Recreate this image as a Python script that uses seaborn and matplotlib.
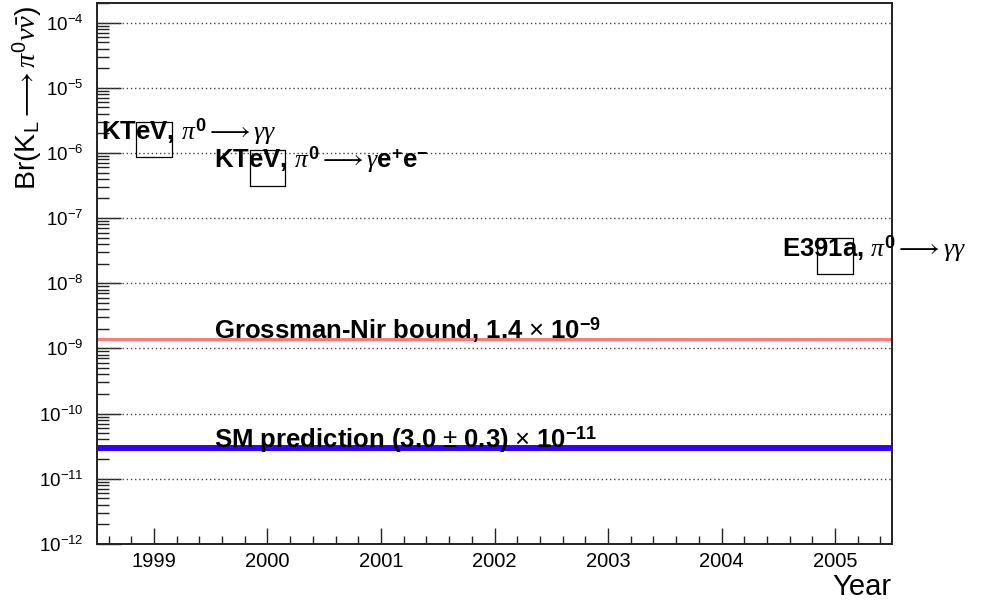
import numpy as np
import matplotlib
matplotlib.use("Agg")
import matplotlib.pyplot as plt
import matplotlib.ticker as mticker
import seaborn as sns

# ----------------------------
# Data: KL -> pi0 nu nubar upper limits
# ----------------------------
years = [1999, 2000, 2005]
limits = [1.6e-6, 5.9e-7, 2.6e-8]
labels = [
    r"KTeV, $\pi^{\mathbf{0}}\longrightarrow\gamma\gamma$",
    r"KTeV, $\pi^{\mathbf{0}}\longrightarrow\gamma$e$^{\mathbf{+}}$e$^{\mathbf{-}}$",
    r"E391a, $\pi^{\mathbf{0}}\longrightarrow\gamma\gamma$",
]
gn_bound = 1.4e-9
sm_pred = 3.0e-11
gn_label = r"Grossman-Nir bound, 1.4$\,\times\,$10$^{\mathbf{-9}}$"
sm_label = r"SM prediction (3.0$\,\pm\,$0.3)$\,\times\,$10$^{\mathbf{-11}}$"
x_range = (1998.5, 2005.5)
y_range = (1e-12, 2e-4)

sns.set_theme(style="white")
plt.rcParams["font.family"] = ["Liberation Sans", "DejaVu Sans"]
plt.rcParams["mathtext.fontset"] = "custom"
plt.rcParams["mathtext.rm"] = "Liberation Sans"
plt.rcParams["mathtext.bf"] = "Liberation Sans:bold"
plt.rcParams["mathtext.it"] = "Liberation Serif:italic"
plt.rcParams["text.color"] = "black"
plt.rcParams["axes.labelcolor"] = "black"
plt.rcParams["xtick.color"] = "black"
plt.rcParams["ytick.color"] = "black"

fig = plt.figure(figsize=(9.92, 6.09), dpi=100)
ax = fig.add_axes([0.098, 0.107, 0.801, 0.888])

ax.set_yscale("log")
ax.set_xlim(*x_range)
ax.set_ylim(*y_range)

# horizontal grid at each decade
for e in range(-11, -3):
    ax.axhline(10.0 ** e, color="#444444", linestyle=(0, (1, 2)), linewidth=1.0, zorder=1)

ax.axhline(gn_bound, color="#ff7b7b", linewidth=2.2, zorder=2)
ax.axhline(sm_pred, color="#3300ff", linewidth=4.3, zorder=2)

sns.scatterplot(x=years, y=limits, marker="s", s=660, facecolors="none",
                edgecolor="black", linewidth=0.9, ax=ax, zorder=5)

for yr, lim, lab in zip(years, limits, labels):
    ax.text(yr - 0.47, lim, lab, fontsize=18.5, fontweight="bold",
            ha="left", va="baseline", zorder=3)

ax.text(1999.53, gn_bound, gn_label, fontsize=18.5, fontweight="bold",
        ha="left", va="baseline", zorder=3)
ax.text(1999.53, sm_pred, sm_label, fontsize=18.5, fontweight="bold",
        ha="left", va="baseline", zorder=3)

# ticks
ax.xaxis.set_major_locator(mticker.MultipleLocator(1))
ax.xaxis.set_minor_locator(mticker.MultipleLocator(0.2))
ax.xaxis.set_major_formatter(mticker.FuncFormatter(lambda v, p: f"{int(round(v))}"))
ax.xaxis.set_minor_formatter(mticker.NullFormatter())
ax.yaxis.set_major_locator(mticker.LogLocator(base=10, numticks=30))
ax.yaxis.set_minor_locator(mticker.LogLocator(base=10, subs=np.arange(2, 10), numticks=200))
ax.yaxis.set_minor_formatter(mticker.NullFormatter())
ax.yaxis.set_major_formatter(mticker.FuncFormatter(
    lambda v, p: r"$\mathregular{10^{%d}}$" % int(round(np.log10(v)))))

ax.tick_params(axis="both", which="both", direction="in", color="#222222",
               left=True, bottom=True, top=False, right=False)
ax.tick_params(axis="x", which="major", length=11.5, width=1.0, labelsize=14.5, pad=6)
ax.tick_params(axis="x", which="minor", length=5.5, width=1.0)
ax.tick_params(axis="y", which="major", length=17, width=1.0, labelsize=13.5, pad=10)
ax.tick_params(axis="y", which="minor", length=8.5, width=1.0)

for sp in ax.spines.values():
    sp.set_color("#222222")
    sp.set_linewidth(1.4)

ax.set_xlabel("Year", fontsize=21, loc="right", labelpad=1)
ax.set_ylabel(r"Br(K$_{\rm L}$$\longrightarrow$$\pi^{0}\nu\bar{\nu}$)", fontsize=20.5, loc="top")
ax.yaxis.set_label_coords(-0.067, 0.995)

fig.savefig("out.png", dpi=100)
